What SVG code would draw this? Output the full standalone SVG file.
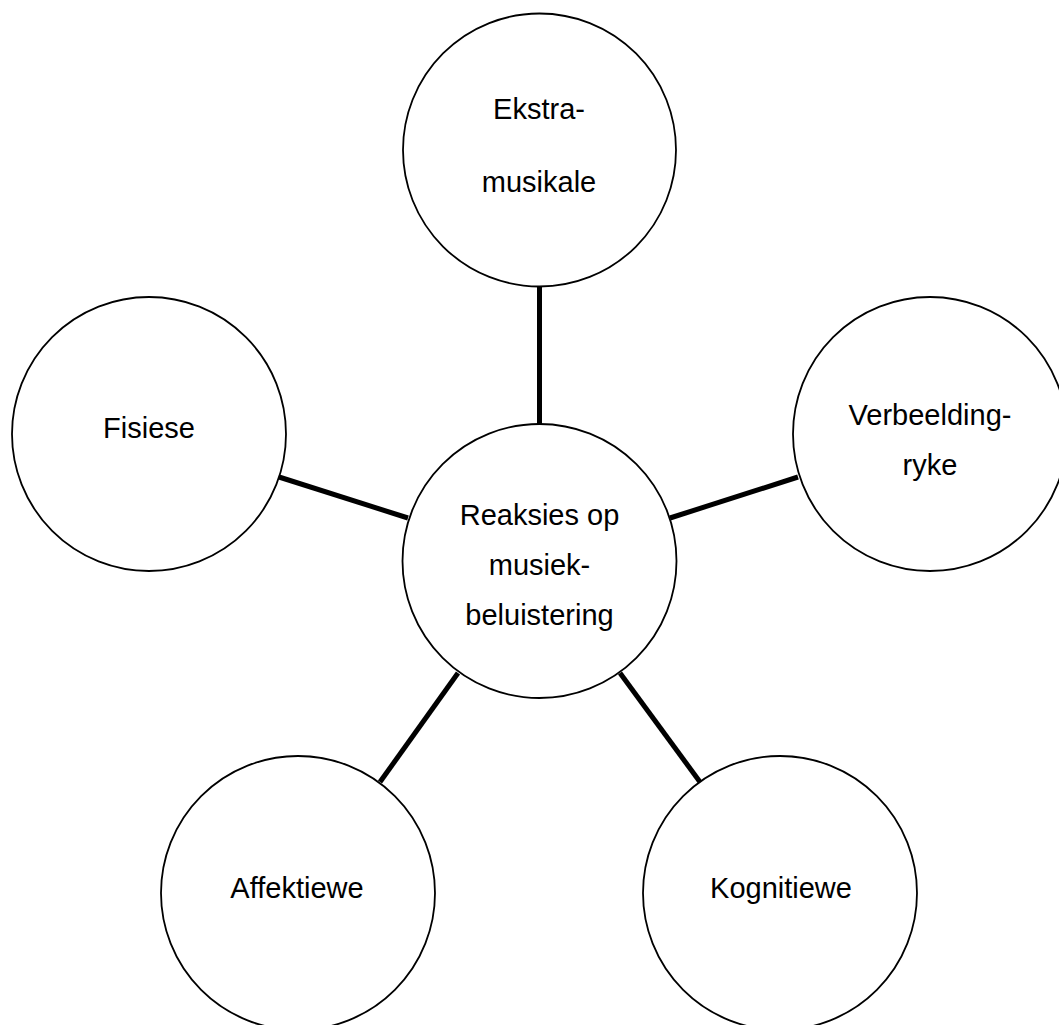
<svg xmlns="http://www.w3.org/2000/svg" width="1059" height="1025" viewBox="0 0 1059 1025">
  <style>
    .node circle { fill: #ffffff; stroke: #000000; stroke-width: 1.8; }
    .node text { font-family: "Liberation Sans", Arial, sans-serif; font-size: 29px; fill: #000000; text-anchor: middle; }
    .links line { stroke: #000000; stroke-width: 5; }
  </style>
  <rect width="1059" height="1025" fill="#ffffff"/>

  <!-- spokes from the hub to each outer circle -->
  <g id="connectors" class="links">
    <line x1="539.5" y1="286" x2="539.5" y2="424"/>
    <line x1="279" y1="477" x2="408" y2="518"/>
    <line x1="670" y1="518" x2="798" y2="477"/>
    <line x1="458" y1="673" x2="380" y2="782"/>
    <line x1="620" y1="673" x2="700" y2="782"/>
  </g>

  <g id="node-top" class="node">
    <circle cx="539.5" cy="150" r="136.5"/>
    <text x="539" y="119">Ekstra-</text>
    <text x="539" y="192">musikale</text>
  </g>

  <g id="node-left" class="node">
    <circle cx="149" cy="434" r="137"/>
    <text x="149" y="438">Fisiese</text>
  </g>

  <g id="node-right" class="node">
    <circle cx="930" cy="434" r="137"/>
    <text x="930" y="425">Verbeelding-</text>
    <text x="930" y="475">ryke</text>
  </g>

  <g id="node-center" class="node">
    <circle cx="539.5" cy="561" r="137"/>
    <text x="539.5" y="525">Reaksies op</text>
    <text x="539.5" y="575">musiek-</text>
    <text x="539.5" y="625">beluistering</text>
  </g>

  <g id="node-bottom-left" class="node">
    <circle cx="298" cy="893" r="137"/>
    <text x="297" y="898">Affektiewe</text>
  </g>

  <g id="node-bottom-right" class="node">
    <circle cx="780" cy="893" r="137"/>
    <text x="781" y="898">Kognitiewe</text>
  </g>
</svg>
